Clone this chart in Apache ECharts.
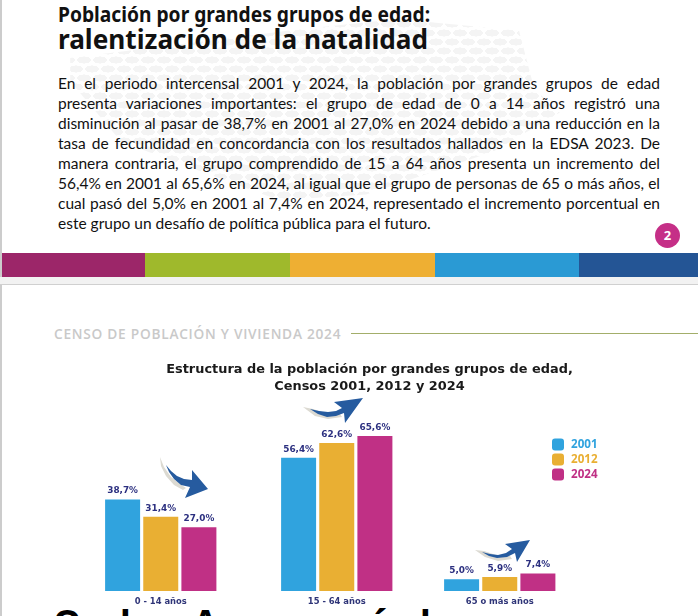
<!DOCTYPE html>
<html lang="es">
<head>
<meta charset="utf-8">
<title>Población por grandes grupos de edad</title>
<script src="https://cdn.jsdelivr.net/npm/echarts@6/dist/echarts.min.js"></script>
<style>
html,body{margin:0;padding:0;width:698px;height:616px;overflow:hidden;background:#fff}
.abs{position:absolute}
#page{position:relative;width:698px;height:616px;overflow:hidden;font-family:Lato,"Open Sans",sans-serif;color:#111}
#dots{left:60px;top:15px;width:510px;height:195px;
 background-color:transparent;
 background-image:radial-gradient(ellipse 7px 3.6px at center,#f4f4f4 96%,transparent 100%),radial-gradient(ellipse 7px 3.6px at center,#f4f4f4 96%,transparent 100%);
 background-size:16px 18px;background-position:0 0,8px 9px;
 clip-path:polygon(2% 22%,45% 8%,66% 2%,90% 8%,93% 38%,98% 50%,85% 70%,60% 92%,43% 95%,12% 65%,2% 34%)}
.h1{left:58px;top:1px;font-size:21px;font-weight:700;line-height:26px;white-space:nowrap;font-family:"Noto Sans",sans-serif;transform:scaleX(.915);transform-origin:left center}
.h2{left:58px;top:22px;font-size:26.5px;font-weight:700;line-height:34px;white-space:nowrap;font-family:"Noto Sans",sans-serif;transform:scaleX(.988);transform-origin:left center}
#para{left:58px;top:73px;width:602px;font-size:15.5px;line-height:20px;font-family:Lato,sans-serif}
#para div{text-align:justify;text-align-last:justify;white-space:nowrap;height:19.95px}
#para div.last{text-align-last:left}
.badge{left:655px;top:222.5px;width:25px;height:25px;border-radius:50%;background:#c52f87;color:#fff;font:700 13px/25px "Noto Sans",sans-serif;text-align:center}
.seg{top:253px;height:24px}
.censo{left:54px;top:325px;font:600 13.7px/18px "Open Sans",sans-serif;color:#c9c9c9;letter-spacing:.74px;white-space:nowrap}
.frag{font:700 36px/40px "Noto Sans",sans-serif;color:#000;top:603px}
#main{position:absolute;left:0;top:0;width:698px;height:616px}
</style>
</head>
<body>
<div id="page">
  <div class="abs" id="dots"></div>
  <div class="abs" style="left:0;top:0;width:2px;height:616px;background:#ccc"></div>
  <div class="abs h1">Población por grandes grupos de edad:</div>
  <div class="abs h2">ralentización de la natalidad</div>
  <div class="abs" id="para">
    <div>En el periodo intercensal 2001 y 2024, la población por grandes grupos de edad</div>
    <div>presenta variaciones importantes: el grupo de edad de 0 a 14 años registró una</div>
    <div>disminución al pasar de 38,7% en 2001 al 27,0% en 2024 debido a una reducción en la</div>
    <div>tasa de fecundidad en concordancia con los resultados hallados en la EDSA 2023. De</div>
    <div>manera contraria, el grupo comprendido de 15 a 64 años presenta un incremento del</div>
    <div>56,4% en 2001 al 65,6% en 2024, al igual que el grupo de personas de 65 o más años, el</div>
    <div>cual pasó del 5,0% en 2001 al 7,4% en 2024, representado el incremento porcentual en</div>
    <div class="last">este grupo un desafío de política pública para el futuro.</div>
  </div>
  <div class="abs badge">2</div>
  <div class="abs seg" style="left:2px;width:143px;background:#9c2669"></div>
  <div class="abs seg" style="left:145px;width:145px;background:#9fb92c"></div>
  <div class="abs seg" style="left:290px;width:145px;background:#eeaf33"></div>
  <div class="abs seg" style="left:435px;width:144px;background:#2a9ad4"></div>
  <div class="abs seg" style="left:579px;width:119px;background:#245595"></div>
  <div class="abs" style="left:0;top:277px;width:698px;height:8px;background:#f2f2f2;border-bottom:1px solid #d0d0d0;box-sizing:border-box"></div>
  <div class="abs censo">CENSO DE POBLACIÓN Y VIVIENDA 2024</div>
  <div class="abs" style="left:351px;top:333px;width:347px;height:1px;background:#a3ae6a"></div>
  <div class="abs frag" style="left:53px">O</div>
  <div class="abs frag" style="left:120px">l</div>
  <div class="abs frag" style="left:193px">A</div>
  <div class="abs frag" style="left:374px">´</div>
  <div class="abs frag" style="left:420px">l</div>
  <div id="main"></div>
</div>
<script>
var categories = ['0 - 14 años', '15 - 64 años', '65 o más años'];
var years = ['2001', '2012', '2024'];
var values2001 = [38.7, 56.4, 5.0];
var values2012 = [31.4, 62.6, 5.9];
var values2024 = [27.0, 65.6, 7.4];
var yearValues = [values2001, values2012, values2024];
var yearColors = ['#30a3de', '#e9af33', '#c03085'];
var groupLefts = [105, 281, 444];
var labelFont = '"DejaVu Sans", sans-serif';

function pct(p){ return p.value.toFixed(1).replace('.', ',') + '%'; }

var grids = [], xAxes = [], yAxes = [], series = [];
categories.forEach(function(cat, g){
  grids.push({left: groupLefts[g], width: 111.5, top: 425.6, height: 165.4});
  xAxes.push({type: 'category', gridIndex: g, data: [cat], axisLine: {show: false}, axisTick: {show: false},
    axisLabel: {margin: 7, color: '#2f3578', fontFamily: labelFont, fontWeight: 700, fontSize: 8.4}});
  yAxes.push({type: 'value', gridIndex: g, min: 0, max: 70, show: false, splitLine: {show: false}});
  years.forEach(function(y, s){
    series.push({
      name: y, type: 'bar', xAxisIndex: g, yAxisIndex: g, data: [yearValues[s][g]],
      barWidth: 35, barGap: '9%', itemStyle: {color: yearColors[s]},
      label: {show: true, position: 'top', distance: 4, formatter: pct, color: '#2c3080',
        fontFamily: labelFont, fontWeight: 700, fontSize: 8.9}
    });
  });
});

function poly(points, fill, z){
  return {type: 'polygon', silent: true, z: z, shape: {points: points}, style: {fill: fill}};
}
var arrowShapes = [
  poly([[160,457],[164,467],[171,477],[180,484],[186,488],[183,490],[174,485],[166,476],[161,466]], '#dcdad2', 20),
  poly([[166,465],[171,471],[177,476],[184,479],[192,480],[192,470],[208,489],[185,498],[190,487],[181,485],[174,479],[169,472]], '#265b9f', 21),
  poly([[303,407],[313,409],[325,413],[340,414],[342,417],[328,419],[315,416]], '#dcdad2', 20),
  poly([[310,409],[319,411],[328,412],[336,411],[342,408],[334,402],[363,398],[345,423],[344,413],[336,416],[327,417],[318,414]], '#265b9f', 21),
  poly([[475,550],[484,551],[496,555],[510,556],[512,559],[498,561],[485,557]], '#dcdad2', 20),
  poly([[482,552],[490,554],[498,555],[506,553],[512,549],[505,544],[530,540],[517,562],[515,553],[507,557],[497,558],[489,556]], '#265b9f', 21)
];

var chart = echarts.init(document.getElementById('main'), null, {renderer: 'canvas'});
chart.setOption({
  backgroundColor: 'transparent',
  animation: false,
  title: {
    text: 'Estructura de la población por grandes grupos de edad,\nCensos 2001, 2012 y 2024',
    left: 364.5, top: 356.5, textAlign: 'center',
    textStyle: {fontFamily: '"DejaVu Sans", sans-serif', fontWeight: 700, fontSize: 12.9, lineHeight: 17, color: '#1a1a1a'}
  },
  legend: {
    left: 552, top: 438.5, orient: 'vertical', itemWidth: 12, itemHeight: 12, itemGap: 3,
    padding: 0, icon: 'roundRect', selectedMode: false,
    data: years.map(function(y, i){
      return {name: y, textStyle: {color: yearColors[i]}};
    }),
    textStyle: {fontFamily: '"Open Sans", sans-serif', fontWeight: 700, fontSize: 11.6, padding: [1, 0, 0, 2]}
  },
  grid: grids, xAxis: xAxes, yAxis: yAxes, series: series,
  graphic: {elements: arrowShapes}
});
</script>
</body>
</html>
